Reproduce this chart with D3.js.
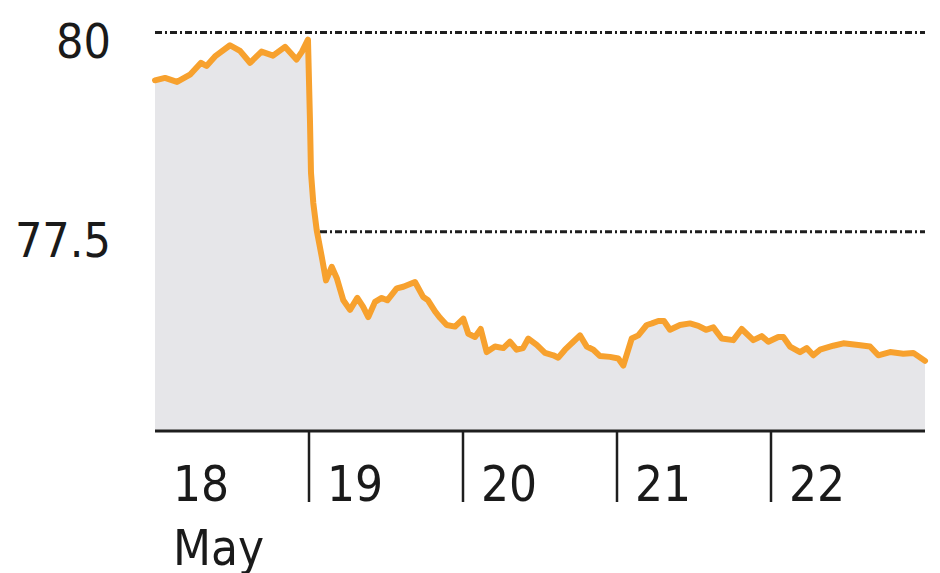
<!DOCTYPE html>
<html>
<head>
<meta charset="utf-8">
<script src="https://cdn.jsdelivr.net/npm/d3@7"></script>
<style>
  html, body { margin: 0; padding: 0; background: #fff; }
  svg text { font-family: "DejaVu Sans", sans-serif; font-stretch: condensed; fill: #1a1a1a; }
</style>
</head>
<body>
<svg id="chart" width="940" height="573"></svg>
<script>
var hours = [0, 1.56, 3.43, 5.45, 7.17, 8.03, 9.35, 11.69, 13.25, 14.81, 16.6, 18.39, 20.26, 22.05, 22.91, 23.84,
  24.15, 24.31, 24.67, 25.2, 25.98, 26.65, 27.54, 28.32, 29.35, 30.39, 31.53, 32.42, 33.24, 34.29, 35.33, 36.2,
  37.67, 38.7, 40.52, 41.81, 42.55, 43.64, 44.42, 45.46, 46.75, 48.05, 48.83, 49.87, 50.76, 51.69, 52.99, 54.28,
  55.32, 56.37, 57.35, 58.18, 59.49, 60.78, 62.07, 62.85, 63.9, 65.19, 66.23, 67.28, 68.31, 69.35, 70.91, 72.2,
  72.98, 74.29, 75.32, 76.63, 77.45, 78.44, 79.32, 80.26, 81.82, 83.38, 84.67, 85.87, 87.01, 88.32, 90.12, 91.43,
  93.24, 94.55, 95.58, 97.14, 97.92, 98.96, 100.52, 101.56, 102.59, 103.64, 105.71, 107.27, 109.61, 111.43, 112.72,
  114.55, 116.62, 118.18, 120];
var values = [79.40, 79.43, 79.38, 79.47, 79.62, 79.58, 79.70, 79.84, 79.77, 79.62, 79.76, 79.71, 79.82, 79.66, 79.76, 79.91,
  78.90, 78.24, 77.86, 77.52, 77.19, 76.89, 77.06, 76.92, 76.64, 76.52, 76.67, 76.56, 76.43, 76.62, 76.67, 76.64,
  76.79, 76.81, 76.87, 76.68, 76.64, 76.50, 76.42, 76.33, 76.31, 76.41, 76.22, 76.18, 76.28, 75.99, 76.06, 76.04,
  76.12, 76.02, 76.04, 76.16, 76.08, 75.98, 75.95, 75.92, 76.02, 76.12, 76.20, 76.06, 76.02, 75.94, 75.93, 75.91,
  75.82, 76.16, 76.20, 76.33, 76.35, 76.38, 76.38, 76.27, 76.33, 76.35, 76.32, 76.27, 76.30, 76.16, 76.14, 76.28,
  76.14, 76.19, 76.12, 76.18, 76.18, 76.06, 75.99, 76.04, 75.95, 76.02, 76.07, 76.10, 76.08, 76.06, 75.95,
  75.99, 75.97, 75.98, 75.88];
var dayLabels = ["18", "19", "20", "21", "22"];
var monthLabel = "May";
var yTicks = [80, 77.5];

var start = new Date(2018, 4, 18);
var data = hours.map(function (h, i) {
  return { date: new Date(start.getTime() + h * 3600000), value: values[i] };
});

var svg = d3.select("#chart");
var m = { left: 155, right: 925, top: 32.5, bottom: 431 };

var x = d3.scaleTime()
  .domain([start, d3.timeDay.offset(start, 5)])
  .range([m.left, m.right]);
var y = d3.scaleLinear()
  .domain([75, 80])
  .range([m.bottom, m.top]);

// dotted gridlines (drawn under the area)
svg.append("g").selectAll("line")
  .data(yTicks)
  .enter().append("line")
  .attr("x1", m.left)
  .attr("x2", m.right)
  .attr("y1", function (d) { return y(d); })
  .attr("y2", function (d) { return y(d); })
  .style("stroke", "#1e1e1e")
  .style("stroke-width", 3)
  .style("stroke-dasharray", "7,3,2,3");

svg.append("g").selectAll("text")
  .data(yTicks)
  .enter().append("text")
  .attr("x", 111)
  .attr("y", function (d) { return y(d) + 25; })
  .attr("text-anchor", "end")
  .style("font-size", "48px")
  .text(function (d) { return d; });

var area = d3.area()
  .x(function (d) { return x(d.date); })
  .y0(y(75))
  .y1(function (d) { return y(d.value); });

svg.append("path")
  .datum(data)
  .attr("d", area)
  .style("fill", "#e6e6e9");

var line = d3.line()
  .x(function (d) { return x(d.date); })
  .y(function (d) { return y(d.value); });

svg.append("path")
  .datum(data)
  .attr("d", line)
  .style("fill", "none")
  .style("stroke", "#f7a12e")
  .style("stroke-width", 6)
  .style("stroke-linejoin", "round")
  .style("stroke-linecap", "round");

// x axis
var days = d3.timeDay.range(start, d3.timeDay.offset(start, 5));
svg.append("line")
  .attr("x1", m.left)
  .attr("x2", m.right)
  .attr("y1", m.bottom)
  .attr("y2", m.bottom)
  .style("stroke", "#1e1e1e")
  .style("stroke-width", 3);

svg.append("g").selectAll("line")
  .data(days.slice(1))
  .enter().append("line")
  .attr("x1", function (d) { return x(d); })
  .attr("x2", function (d) { return x(d); })
  .attr("y1", m.bottom)
  .attr("y2", 502)
  .style("stroke", "#1e1e1e")
  .style("stroke-width", 2.5);

svg.append("g").selectAll("text")
  .data(days)
  .enter().append("text")
  .attr("x", function (d) { return x(d) + 18; })
  .attr("y", 501)
  .style("font-size", "49px")
  .text(function (d, i) { return dayLabels[i]; });

svg.append("text")
  .attr("x", x(start) + 18)
  .attr("y", 565)
  .style("font-size", "49px")
  .text(monthLabel);
</script>
</body>
</html>
